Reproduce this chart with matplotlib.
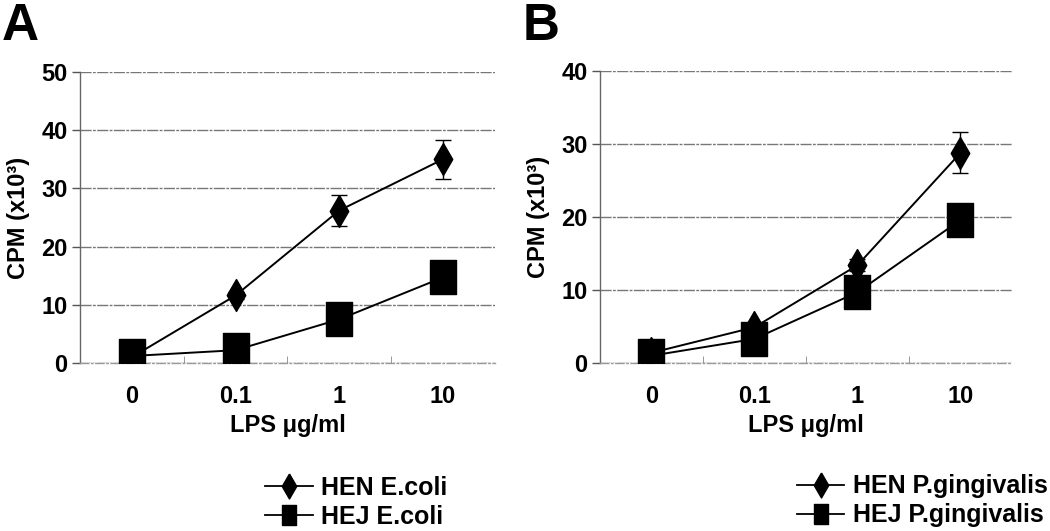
import matplotlib
matplotlib.use("Agg")
import matplotlib.pyplot as plt
from matplotlib.lines import Line2D
import numpy as np

plt.rcParams['font.family'] = ['Liberation Sans', 'DejaVu Sans']
plt.rcParams['font.weight'] = 'bold'

categories = ["0", "0.1", "1", "10"]

# Panel A (E.coli)
hen_ecoli = [1.0, 11.6, 26.2, 35.0]
hen_ecoli_err = [0.4, 0.6, 2.6, 3.4]
hej_ecoli = [1.2, 2.2, 7.5, 14.7]
hej_ecoli_err = [0.3, 0.3, 0.5, 0.8]

# Panel B (P.gingivalis)
hen_pg = [1.4, 4.9, 13.4, 28.8]
hen_pg_err = [0.5, 0.5, 0.8, 2.8]
hej_pg = [1.0, 3.3, 9.7, 19.6]
hej_pg_err = [0.3, 0.4, 0.6, 0.8]

legend_a = ["HEN E.coli", "HEJ E.coli"]
legend_b = ["HEN P.gingivalis", "HEJ P.gingivalis"]

diamond = [(0, 0.5), (0.29, 0), (0, -0.5), (-0.29, 0), (0, 0.5)]
rect = [(-0.39, -0.5), (0.39, -0.5), (0.39, 0.5), (-0.39, 0.5), (-0.39, -0.5)]
leg_rect = [(-0.35, -0.5), (0.35, -0.5), (0.35, 0.5), (-0.35, 0.5), (-0.35, -0.5)]

fig = plt.figure(figsize=(10.5, 5.31), dpi=100)

def panel(rect_ax, hen, hen_err, hej, hej_err, ymax, labels, letter, letter_x, leg_xy):
    ax = fig.add_axes(rect_ax)
    x = np.arange(len(categories))
    ax.errorbar(x, hen, yerr=hen_err, color='black', lw=1.4, marker=diamond,
                ms=23, mfc='black', mec='black', capsize=6, elinewidth=1.0,
                capthick=1.0, zorder=3)
    ax.errorbar(x, hej, yerr=hej_err, color='black', lw=1.4, marker=rect,
                ms=24, mfc='black', mec='black', capsize=6, elinewidth=1.0,
                capthick=1.0, zorder=4)
    ax.set_xlim(-0.5, len(categories) - 0.5)
    ax.set_ylim(0, ymax)
    ax.set_yticks(np.arange(0, ymax + 1, 10))
    ax.set_xticks(x)
    ax.set_xticklabels(categories)
    ax.tick_params(axis='x', length=0, pad=16, labelsize=17)
    ax.tick_params(axis='y', length=6, width=1, color='#555555', pad=3, labelsize=17)
    for lab in ax.get_xticklabels() + ax.get_yticklabels():
        lab.set_fontweight('bold')
    ax.set_xticks(np.arange(0.5, len(categories) - 1, 1), minor=True)
    ax.tick_params(axis='x', which='minor', length=5, direction='in', color='#888888')
    ax.grid(axis='y', color='#777777', lw=1.0, ls=(0, (8, 1, 2, 1)))
    for s in ['top', 'right']:
        ax.spines[s].set_visible(False)
    ax.spines['left'].set_color('#666666')
    ax.spines['left'].set_linewidth(1.0)
    ax.spines['bottom'].set_color('#999999')
    ax.spines['bottom'].set_linewidth(1.0)
    ax.spines['bottom'].set_linestyle((0, (6, 2, 1, 2)))
    ax.set_axisbelow(True)
    ax.set_ylabel('CPM (x10³)', fontsize=17, fontweight='bold', labelpad=8)
    ax.set_xlabel('LPS μg/ml', fontsize=17, fontweight='bold', labelpad=4)
    fig.text(letter_x, 0.996, letter, fontsize=37, fontweight='bold', va='top', ha='left')
    handles = [
        Line2D([], [], color='black', lw=1.3, marker=diamond, ms=18, mfc='black', mec='black'),
        Line2D([], [], color='black', lw=1.3, marker=leg_rect, ms=15, mfc='black', mec='black'),
    ]
    fig.legend(handles, labels, loc='center left', bbox_to_anchor=leg_xy, frameon=False,
               prop={'size': 18, 'weight': 'bold'}, handlelength=1.9, handletextpad=0.35,
               labelspacing=0.2, borderpad=0, borderaxespad=0)
    return ax

panel([0.0762, 0.3164, 0.395, 0.548], hen_ecoli, hen_ecoli_err, hej_ecoli, hej_ecoli_err,
      50, legend_a, 'A', 0.002, (0.2524, 0.0537))
panel([0.5714, 0.3164, 0.3924, 0.5496], hen_pg, hen_pg_err, hej_pg, hej_pg_err,
      40, legend_b, 'B', 0.498, (0.759, 0.0565))

fig.savefig('out.png', dpi=100)
